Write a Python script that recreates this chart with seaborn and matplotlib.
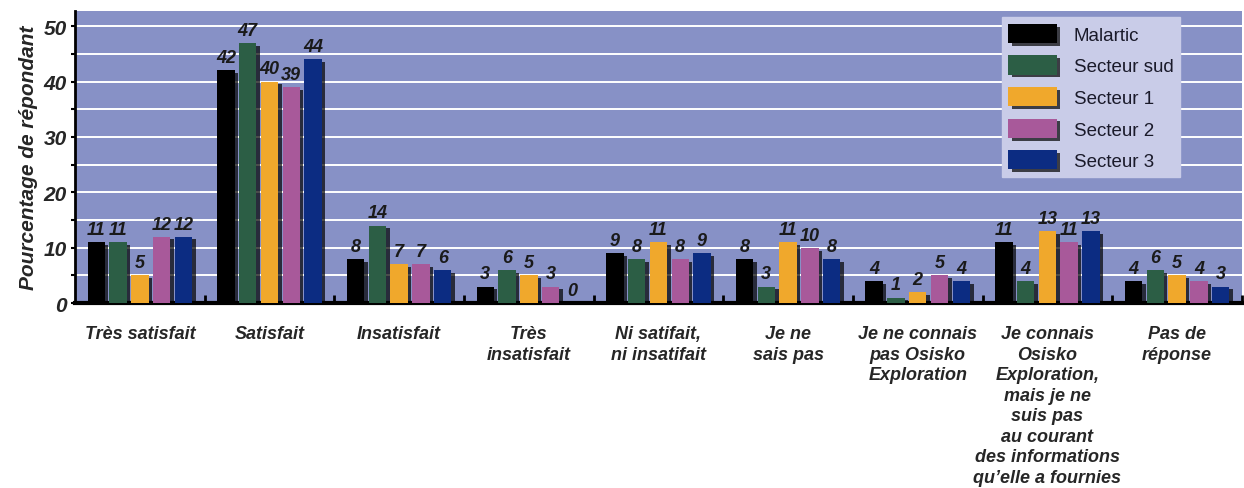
import numpy as np
import pandas as pd
import seaborn as sns
import matplotlib.pyplot as plt
import matplotlib.patheffects as pe
from matplotlib.ticker import MultipleLocator, FixedLocator

categories = ["Très satisfait", "Satisfait", "Insatisfait", "Très\ninsatisfait",
              "Ni satifait,\nni insatifait", "Je ne\nsais pas",
              "Je ne connais\npas Osisko\nExploration",
              "Je connais\nOsisko\nExploration,\nmais je ne\nsuis pas\nau courant\ndes informations\nqu\u2019elle a fournies",
              "Pas de\nréponse"]
series = ["Malartic", "Secteur sud", "Secteur 1", "Secteur 2", "Secteur 3"]
malartic = [11, 42, 8, 3, 9, 8, 4, 11, 4]
secteur_sud = [11, 47, 14, 6, 8, 3, 1, 4, 6]
secteur_1 = [5, 40, 7, 5, 11, 11, 2, 13, 5]
secteur_2 = [12, 39, 7, 3, 8, 10, 5, 11, 4]
secteur_3 = [12, 44, 6, 0, 9, 8, 4, 13, 3]
colors = ["#000000", "#2c5e45", "#f0a82c", "#a8599a", "#0c2c82"]

values = [malartic, secteur_sud, secteur_1, secteur_2, secteur_3]
df = pd.DataFrame({
    "cat": np.tile(categories, len(series)),
    "serie": np.repeat(series, len(categories)),
    "val": np.concatenate(values),
})

sns.set_style("white")
plt.rcParams["font.family"] = ["Liberation Sans", "DejaVu Sans"]

fig = plt.figure(figsize=(12.44, 4.89), dpi=100)
ax = fig.add_axes([0.0603, 0.378, 0.938, 0.597])
ax.set_facecolor("#8791c6")

sns.barplot(data=df, x="cat", y="val", hue="serie", order=categories,
            hue_order=series, palette=colors, width=0.84, gap=0.2,
            saturation=1, ax=ax, legend=False, zorder=3, linewidth=0)

shadow = [pe.SimplePatchShadow(offset=(2.5, -2), shadow_rgbFace="black", alpha=0.7), pe.Normal()]
for cont in ax.containers:
    for bar in cont:
        bar.set_path_effects(shadow)
        bar.set_edgecolor("none")
    ax.bar_label(cont, fmt="%d", padding=3, fontsize=13,
                 fontweight="bold", fontstyle="italic", color="#1a1a1a")

ax.set_ylim(0, 52.7)
ax.set_xlim(-0.5, 8.5)
ax.yaxis.set_major_locator(MultipleLocator(10))
ax.yaxis.set_minor_locator(MultipleLocator(5))
ax.grid(axis="y", which="both", color="white", linewidth=1.4, zorder=0)
ax.set_axisbelow(True)

ax.xaxis.set_minor_locator(FixedLocator(np.arange(0.5, 9, 1)))
ax.tick_params(axis="x", which="major", length=0, pad=16)
ax.tick_params(axis="x", which="minor", direction="in", length=6, width=2, color="black", bottom=True)
ax.tick_params(axis="y", which="both", direction="out", length=3, width=1.5, color="black", left=True, pad=3)

for lab in ax.get_xticklabels():
    lab.set_fontsize(13)
    lab.set_fontweight("bold")
    lab.set_fontstyle("italic")
    lab.set_verticalalignment("top")
    lab.set_multialignment("center")
    lab.set_linespacing(1.27)
for lab in ax.get_yticklabels():
    lab.set_fontsize(15)
    lab.set_fontweight("bold")
    lab.set_fontstyle("italic")

ax.set_xlabel("")
ax.set_ylabel("Pourcentage de répondant", fontsize=15, fontweight="bold", fontstyle="italic", labelpad=4)

for s in ["top", "right"]:
    ax.spines[s].set_visible(False)
ax.spines["left"].set_color("black")
ax.spines["left"].set_linewidth(2)
ax.spines["bottom"].set_color("black")
ax.spines["bottom"].set_linewidth(3)

handles = [plt.Rectangle((0, 0), 1, 1, facecolor=c, edgecolor="none", path_effects=shadow) for c in colors]
leg = ax.legend(handles, series, loc="upper right", bbox_to_anchor=(0.947, 0.979),
                fontsize=13.5, frameon=True, fancybox=False, handlelength=2.6,
                handleheight=1.2, labelspacing=0.62, borderpad=0.35, handletextpad=0.9,
                borderaxespad=0)
leg.get_frame().set_facecolor("#c9cce8")
leg.get_frame().set_edgecolor("#c9cce8")
leg.get_frame().set_alpha(1)
for t in leg.get_texts():
    t.set_color("#1a1a2a")

fig.savefig("out.png", dpi=100)
